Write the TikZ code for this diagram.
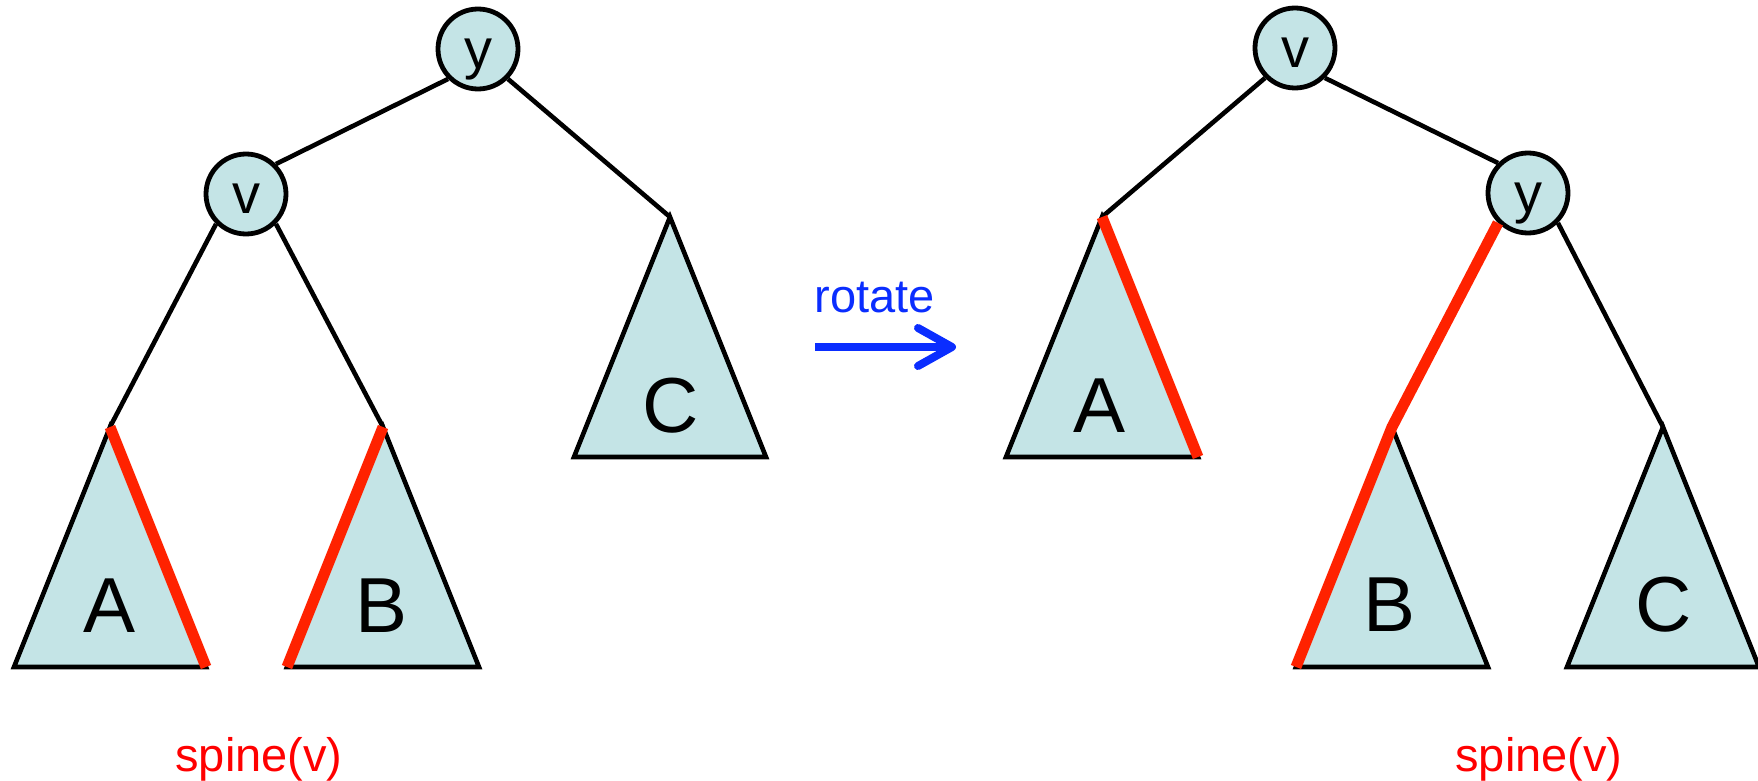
\documentclass[tikz,border=0pt]{standalone}
\usepackage{fontspec}
\setmainfont{Liberation Sans}
\usepackage{xcolor}
\usetikzlibrary{arrows.meta}

\definecolor{treefill}{RGB}{196,228,230}
\definecolor{spinered}{RGB}{255,34,0}
\definecolor{rotblue}{RGB}{10,45,255}

\begin{document}
\begin{tikzpicture}[
    x=0.5pt, y=-0.5pt,
    vert/.style={circle, draw, line width=2.4pt, fill=treefill, minimum size=40pt, inner sep=0pt,
                 text height=19.5pt, text depth=0pt, font=\fontsize{28pt}{30pt}\selectfont},
    subtree/.style={draw, fill=treefill, line width=2.3pt},
    link/.style={draw, line width=2.3pt},
    spine/.style={draw=spinered, line width=5.5pt},
    letter/.style={font=\fontsize{39pt}{42pt}\selectfont},
    txt/.style={anchor=base, font=\fontsize{23.5pt}{28pt}\selectfont},
    turn/.style={-{Straight Barb[length=17pt, width=19pt, round]}, draw=rotblue, line width=4pt},
]
    \useasboundingbox (0,0) rectangle (1758,781);

    % left tree, before the rotation
    \coordinate (lA) at (110,427);
    \coordinate (lB) at (383,427);
    \coordinate (lC) at (670,217);
    \filldraw[subtree] (lA) -- ++(-96,240) coordinate (lAl) -- ++(192,0) coordinate (lAr) -- cycle;
    \filldraw[subtree] (lB) -- ++(-96,240) coordinate (lBl) -- ++(192,0) coordinate (lBr) -- cycle;
    \filldraw[subtree] (lC) -- ++(-96,240) coordinate (lCl) -- ++(192,0) coordinate (lCr) -- cycle;
    \node[vert] (ly) at (478,49) {y};
    \node[vert] (lv) at (246,194) {v};

    \draw[link] (ly.south west) -- (lv.north east);
    \draw[link] (ly.south east) -- (lC);
    \draw[link] (lv.south west) -- (lA);
    \draw[link] (lv.south east) -- (lB);
    \draw[spine] (lA) -- (lAr);
    \draw[spine] (lB) -- (lBl);

    \node[letter] (lAlab) at (110,606) {A};
    \node[letter] (lBlab) at (382,606) {B};
    \node[letter] (lClab) at (671,406) {C};
    \node[txt, text=red] (lspine) at (259,771) {spine(v)};

    % rotate arrow
    \coordinate (rs) at (815,347);
    \coordinate (re) at (956,347);
    \draw[turn] (rs) -- (re);
    \node[txt, text=rotblue] (rotlab) at (875,313) {rotate};

    % right tree, after the rotation
    \coordinate (rA) at (1102,217);
    \coordinate (rB) at (1392,427);
    \coordinate (rC) at (1663,427);
    \filldraw[subtree] (rA) -- ++(-96,240) coordinate (rAl) -- ++(192,0) coordinate (rAr) -- cycle;
    \filldraw[subtree] (rB) -- ++(-96,240) coordinate (rBl) -- ++(192,0) coordinate (rBr) -- cycle;
    \filldraw[subtree] (rC) -- ++(-96,240) coordinate (rCl) -- ++(192,0) coordinate (rCr) -- cycle;
    \node[vert] (rv) at (1295,48) {v};
    \node[vert] (ry) at (1528,193) {y};

    \draw[link] (rv.south west) -- (rA);
    \draw[link] (rv.south east) -- (ry.north west);
    \draw[link] (ry.south east) -- (rC);
    \draw[spine] (rA) -- (rAr);
    \draw[spine] (ry.south west) -- (rB) -- (rBl);

    \node[letter] (rAlab) at (1100,406) {A};
    \node[letter] (rBlab) at (1390,605) {B};
    \node[letter] (rClab) at (1664,605) {C};
    \node[txt, text=red] (rspine) at (1539,771) {spine(v)};
\end{tikzpicture}
\end{document}
